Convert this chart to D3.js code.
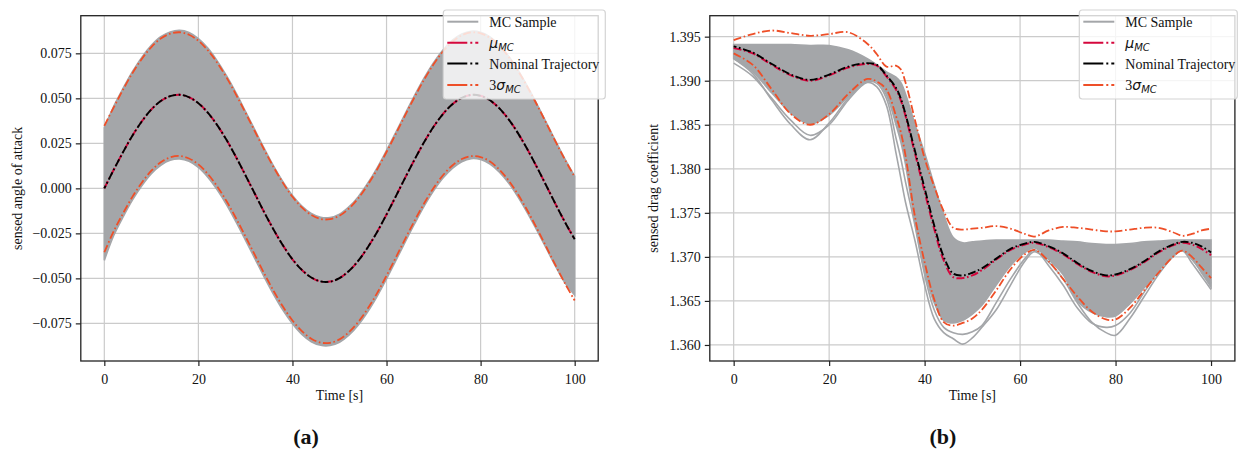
<!DOCTYPE html>
<html><head><meta charset="utf-8">
<script src="https://cdn.jsdelivr.net/npm/d3@7"></script>
<style>
body{margin:0;background:#fff}
text{font-family:"Liberation Serif","Times New Roman",serif;fill:#111}
</style>
</head><body>
<svg id="c" width="1238" height="450"></svg>
<script>
// ---------- DATA: panel (a) sensed angle of attack ----------
const timeA = [0,2,4,6,8,10,12,14,16,18,20,22,24,26,28,30,32,34,36,38,40,42,44,46,48,50,52,54,56,58,60,62,64,66,68,70,72,74,76,78,80,82,84,86,88,90,92,94,96,98,100];
const nominalA = [0.0000,0.0103,0.0202,0.0294,0.0373,0.0438,0.0485,0.0512,0.0520,0.0506,0.0473,0.0420,0.0351,0.0268,0.0174,0.0073,-0.0030,-0.0133,-0.0230,-0.0318,-0.0394,-0.0453,-0.0495,-0.0517,-0.0518,-0.0499,-0.0459,-0.0402,-0.0328,-0.0242,-0.0145,-0.0043,0.0061,0.0162,0.0257,0.0342,0.0413,0.0467,0.0503,0.0519,0.0514,0.0489,0.0444,0.0382,0.0304,0.0214,0.0116,0.0013,-0.0091,-0.0191,-0.0283];
const meanA = [0.0000,0.0103,0.0202,0.0294,0.0373,0.0438,0.0485,0.0512,0.0520,0.0506,0.0473,0.0420,0.0351,0.0268,0.0174,0.0073,-0.0030,-0.0133,-0.0230,-0.0318,-0.0394,-0.0453,-0.0495,-0.0517,-0.0518,-0.0499,-0.0459,-0.0402,-0.0328,-0.0242,-0.0145,-0.0043,0.0061,0.0162,0.0257,0.0342,0.0413,0.0467,0.0503,0.0519,0.0514,0.0489,0.0444,0.0382,0.0304,0.0214,0.0116,0.0013,-0.0091,-0.0191,-0.0283];
const upper3sA = [0.0347,0.0450,0.0549,0.0641,0.0720,0.0785,0.0832,0.0859,0.0867,0.0853,0.0820,0.0767,0.0698,0.0615,0.0521,0.0420,0.0317,0.0214,0.0117,0.0029,-0.0047,-0.0106,-0.0148,-0.0170,-0.0171,-0.0152,-0.0112,-0.0055,0.0019,0.0105,0.0202,0.0304,0.0408,0.0509,0.0604,0.0689,0.0760,0.0814,0.0850,0.0866,0.0861,0.0836,0.0791,0.0729,0.0651,0.0561,0.0463,0.0360,0.0256,0.0156,0.0064];
const lower3sA = [-0.0355,-0.0238,-0.0138,-0.0046,0.0033,0.0098,0.0145,0.0172,0.0180,0.0166,0.0133,0.0080,0.0011,-0.0072,-0.0166,-0.0267,-0.0370,-0.0473,-0.0570,-0.0658,-0.0734,-0.0793,-0.0835,-0.0857,-0.0858,-0.0839,-0.0799,-0.0742,-0.0668,-0.0582,-0.0485,-0.0383,-0.0279,-0.0178,-0.0083,0.0002,0.0073,0.0127,0.0163,0.0179,0.0174,0.0149,0.0104,0.0042,-0.0036,-0.0126,-0.0224,-0.0327,-0.0431,-0.0531,-0.0623];
const sampleMaxA = [0.0336,0.0456,0.0556,0.0649,0.0729,0.0794,0.0842,0.0869,0.0878,0.0866,0.0832,0.0779,0.0708,0.0624,0.0530,0.0428,0.0325,0.0222,0.0124,0.0036,-0.0040,-0.0099,-0.0140,-0.0161,-0.0162,-0.0143,-0.0103,-0.0046,0.0028,0.0114,0.0211,0.0313,0.0417,0.0518,0.0613,0.0698,0.0769,0.0823,0.0858,0.0873,0.0867,0.0841,0.0795,0.0733,0.0655,0.0565,0.0467,0.0364,0.0260,0.0160,0.0068];
const sampleMinA = [-0.0400,-0.0262,-0.0158,-0.0064,0.0016,0.0082,0.0128,0.0156,0.0163,0.0150,0.0116,0.0062,-0.0008,-0.0091,-0.0186,-0.0287,-0.0390,-0.0493,-0.0590,-0.0678,-0.0752,-0.0811,-0.0852,-0.0872,-0.0873,-0.0855,-0.0816,-0.0759,-0.0686,-0.0600,-0.0503,-0.0400,-0.0296,-0.0195,-0.0099,-0.0014,0.0057,0.0111,0.0148,0.0165,0.0160,0.0135,0.0090,0.0028,-0.0050,-0.0139,-0.0235,-0.0335,-0.0436,-0.0527,-0.0592];
const yTicksA = [-0.075,-0.050,-0.025,0.000,0.025,0.050,0.075];

// ---------- DATA: panel (b) sensed drag coefficient ----------
const timeB = [0,4,8,12,16,20,24,28,30,32,34,35,36,38,40,42,44,46,48,50,52,55,58,61,63,66,69,72,75,78,80,83,86,89,92,94,96,98,100];
const nominalB = [1.3939,1.3932,1.3919,1.3907,1.3901,1.3907,1.3916,1.3920,1.3918,1.3906,1.3892,1.3880,1.3862,1.3820,1.3778,1.3736,1.3700,1.3681,1.3679,1.3682,1.3687,1.3698,1.3709,1.3715,1.3717,1.3712,1.3704,1.3693,1.3684,1.3679,1.3680,1.3686,1.3695,1.3706,1.3714,1.3717,1.3716,1.3712,1.3705];
const meanB = [1.3937,1.3931,1.3918,1.3906,1.3900,1.3906,1.3915,1.3919,1.3917,1.3905,1.3890,1.3878,1.3860,1.3817,1.3774,1.3732,1.3696,1.3677,1.3676,1.3679,1.3685,1.3697,1.3708,1.3714,1.3716,1.3711,1.3703,1.3692,1.3683,1.3678,1.3679,1.3685,1.3694,1.3705,1.3713,1.3716,1.3714,1.3709,1.3702];
const upper3sB = [1.3946,1.3953,1.3957,1.3954,1.3951,1.3953,1.3955,1.3942,1.3930,1.3916,1.3917,1.3913,1.3898,1.3855,1.3812,1.3780,1.3752,1.3733,1.3731,1.3732,1.3733,1.3735,1.3732,1.3726,1.3723,1.3730,1.3734,1.3733,1.3731,1.3729,1.3729,1.3731,1.3733,1.3733,1.3728,1.3724,1.3726,1.3730,1.3732];
const lower3sB = [1.3931,1.3918,1.3890,1.3862,1.3850,1.3862,1.3885,1.3902,1.3899,1.3890,1.3860,1.3842,1.3815,1.3745,1.3694,1.3652,1.3626,1.3622,1.3625,1.3630,1.3640,1.3662,1.3686,1.3703,1.3708,1.3695,1.3675,1.3655,1.3638,1.3629,1.3629,1.3642,1.3662,1.3682,1.3700,1.3707,1.3700,1.3688,1.3676];
const sampleMaxB = [1.3941,1.3941,1.3941,1.3941,1.3940,1.3940,1.3935,1.3925,1.3918,1.3910,1.3904,1.3898,1.3885,1.3850,1.3818,1.3782,1.3748,1.3722,1.3716,1.3717,1.3718,1.3719,1.3719,1.3719,1.3719,1.3719,1.3718,1.3717,1.3715,1.3714,1.3714,1.3715,1.3717,1.3718,1.3719,1.3719,1.3719,1.3719,1.3719];
const sampleMinB = [1.3925,1.3910,1.3886,1.3863,1.3851,1.3861,1.3882,1.3900,1.3899,1.3884,1.3850,1.3831,1.3805,1.3738,1.3684,1.3648,1.3628,1.3625,1.3628,1.3635,1.3645,1.3668,1.3690,1.3705,1.3710,1.3697,1.3680,1.3650,1.3637,1.3632,1.3633,1.3647,1.3665,1.3685,1.3701,1.3708,1.3698,1.3682,1.3666];
const outlier1B = [1.3920,1.3905,1.3880,1.3855,1.3838,1.3850,1.3878,1.3898,1.3893,1.3872,1.3818,1.3790,1.3762,1.3718,1.3668,1.3630,1.3614,1.3607,1.3601,1.3608,1.3620,1.3640,1.3668,1.3695,1.3706,1.3694,1.3675,1.3648,1.3626,1.3614,1.3611,1.3630,1.3655,1.3680,1.3700,1.3707,1.3693,1.3678,1.3663];
const outlier2B = [1.3925,1.3908,1.3878,1.3850,1.3833,1.3852,1.3880,1.3899,1.3897,1.3880,1.3835,1.3812,1.3785,1.3735,1.3680,1.3640,1.3620,1.3614,1.3612,1.3615,1.3622,1.3648,1.3675,1.3698,1.3708,1.3690,1.3668,1.3642,1.3625,1.3620,1.3622,1.3636,1.3660,1.3684,1.3702,1.3708,1.3697,1.3684,1.3670];
const yTicksB = [1.360,1.365,1.370,1.375,1.380,1.385,1.390,1.395];

const xTicks = [0,20,40,60,80,100];
const legendLabels = ["MC Sample","μ","Nominal Trajectory","3σ"];

// ---------- STYLE ----------
const C_GRAY = "#a4a6a9", C_MU = "#d5073d", C_NOM = "#000000", C_SIG = "#ee4f28";
const DASH = "8,2.6,1.6,2.6";

const svg = d3.select("#c");

function panel(cfg){
  const g = svg.append("g");
  const x = d3.scaleLinear().domain([-5,105]).range(cfg.xr);
  const y = d3.scaleLinear().domain(cfg.yd).range([361,15.7]);
  const [x0,x1] = cfg.xr, y0=15.7, y1=361;
  const clipId = "clip"+cfg.id;
  svg.append("clipPath").attr("id",clipId).append("rect")
     .attr("x",x0).attr("y",y0).attr("width",x1-x0).attr("height",y1-y0);

  // grid
  const grid = g.append("g").attr("stroke","#cbcbcb").attr("stroke-width",1.2);
  xTicks.forEach(t=>grid.append("line").attr("x1",x(t)).attr("x2",x(t)).attr("y1",y0).attr("y2",y1));
  cfg.yTicks.forEach(t=>grid.append("line").attr("x1",x0).attr("x2",x1).attr("y1",y(t)).attr("y2",y(t)));

  const plot = g.append("g").attr("clip-path",`url(#${clipId})`);
  const T = cfg.time;
  const curve = d3.curveCatmullRom.alpha(0.5);
  // MC sample band
  const area = d3.area().x((d,i)=>x(T[i])).y0((d,i)=>y(cfg.sMin[i])).y1((d,i)=>y(cfg.sMax[i])).curve(curve);
  plot.append("path").datum(cfg.sMax).attr("d",area).attr("fill",C_GRAY).attr("stroke",C_GRAY).attr("stroke-width",1.6);
  const line = arr => d3.line().x((d,i)=>x(T[i])).y(d=>y(d)).curve(curve)(arr);
  (cfg.outliers||[]).forEach(o=>{
    plot.append("path").attr("d",line(o)).attr("fill","none").attr("stroke",C_GRAY).attr("stroke-width",1.6);
  });
  // sigma bounds
  [cfg.up,cfg.lo].forEach(a=>plot.append("path").attr("d",line(a)).attr("fill","none")
     .attr("stroke",C_SIG).attr("stroke-width",1.8).attr("stroke-dasharray",DASH));
  // mean
  plot.append("path").attr("d",line(cfg.mean)).attr("fill","none").attr("stroke",C_MU)
     .attr("stroke-width",2).attr("stroke-dasharray",DASH);
  // nominal
  plot.append("path").attr("d",line(cfg.nom)).attr("fill","none").attr("stroke",C_NOM)
     .attr("stroke-width",1.9).attr("stroke-dasharray",DASH).attr("stroke-dashoffset",5);

  // spines
  g.append("rect").attr("x",x0).attr("y",y0).attr("width",x1-x0).attr("height",y1-y0)
   .attr("fill","none").attr("stroke","#222").attr("stroke-width",1.3);

  // axes
  const xa = g.append("g").attr("transform",`translate(0,${y1})`)
    .call(d3.axisBottom(x).tickValues(xTicks).tickSize(5).tickPadding(5).tickFormat(d3.format("d")));
  const fmt = d3.format(".3f");
  const ya = g.append("g").attr("transform",`translate(${x0},0)`)
    .call(d3.axisLeft(y).tickValues(cfg.yTicks).tickSize(5).tickPadding(4).tickFormat(d=>fmt(d).replace("-","\u2212")));
  [xa,ya].forEach(a=>{
    a.select(".domain").remove();
    a.selectAll(".tick line").attr("stroke","#222").attr("stroke-width",1.2);
    a.selectAll("text").attr("font-size",14).attr("fill","#111")
      .style("font-family","'Liberation Serif',serif");
  });
  xa.selectAll("text").attr("dy","0.95em");

  g.append("text").attr("x",(x0+x1)/2).attr("y",400).attr("text-anchor","middle")
   .attr("font-size",14).text("Time [s]");
  g.append("text").attr("transform",`translate(${cfg.ylx},${(y0+y1)/2}) rotate(-90)`)
   .attr("text-anchor","middle").attr("font-size",14).text(cfg.ylabel);
  g.append("text").attr("x",cfg.capx).attr("y",444).attr("text-anchor","middle")
   .attr("font-size",22).attr("font-weight","bold").text(cfg.cap);

  // legend
  const L = g.append("g");
  L.append("rect").attr("x",cfg.lx).attr("y",10).attr("width",cfg.lw).attr("height",89)
   .attr("rx",3).attr("fill","rgba(255,255,255,0.8)").attr("stroke","#d4d4d4").attr("stroke-width",1.2);
  const rows=[21.7,42.7,63.6,85];
  const styles=[[C_GRAY,null],[C_MU,DASH],[C_NOM,DASH],[C_SIG,DASH]];
  rows.forEach((ry,i)=>{
    const ln = L.append("line").attr("x1",cfg.lx+4).attr("x2",cfg.lx+35).attr("y1",ry).attr("y2",ry)
      .attr("stroke",styles[i][0]).attr("stroke-width",2);
    if(styles[i][1]) ln.attr("stroke-dasharray","20,3,2,3");
    const tx = L.append("text").attr("x",cfg.lx+46).attr("y",ry+5).attr("font-size",14);
    if(i===0||i===2){ tx.text(legendLabels[i]); }
    else if(i===1){
      tx.append("tspan").style("font-family","'DejaVu Sans',sans-serif").style("font-style","italic").text("μ");
      tx.append("tspan").attr("dy",3).attr("font-size",10).style("font-family","'DejaVu Sans',sans-serif").style("font-style","italic").text("MC");
    } else {
      tx.append("tspan").text("3");
      tx.append("tspan").style("font-family","'DejaVu Sans',sans-serif").style("font-style","italic").text("σ");
      tx.append("tspan").attr("dy",3).attr("font-size",10).style("font-family","'DejaVu Sans',sans-serif").style("font-style","italic").text("MC");
    }
  });
}

panel({id:"a",xr:[80.8,598.2],yd:[-0.0959,0.0959],yTicks:yTicksA,time:timeA,
  nom:nominalA,mean:meanA,up:upper3sA,lo:lower3sA,sMax:sampleMaxA,sMin:sampleMinA,
  ylabel:"sensed angle of attack",ylx:22,cap:"(a)",capx:306,lx:443.3,lw:162});
panel({id:"b",xr:[709.8,1234.9],yd:[1.35818,1.39738],yTicks:yTicksB,time:timeB,
  nom:nominalB,mean:meanB,up:upper3sB,lo:lower3sB,sMax:sampleMaxB,sMin:sampleMinB,
  outliers:[outlier1B,outlier2B],
  ylabel:"sensed drag coefficient",ylx:658,cap:"(b)",capx:943,lx:1079.3,lw:158});
</script>
</body></html>
